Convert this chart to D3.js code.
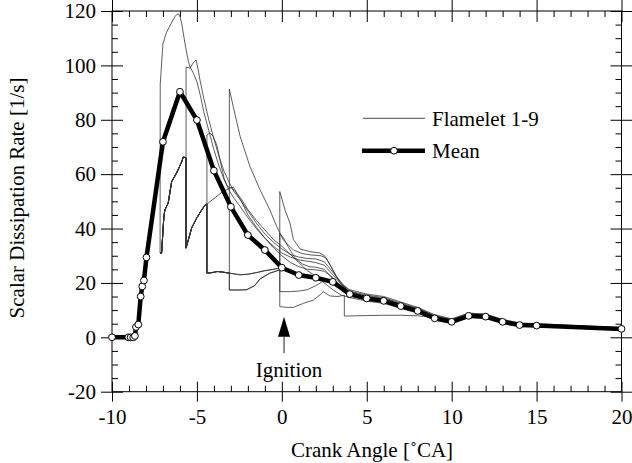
<!DOCTYPE html>
<html><head><meta charset="utf-8">
<script src="https://cdn.jsdelivr.net/npm/d3@7"></script>
<style>
body{margin:0;background:#fff}
svg{display:block}
text{font-family:"Liberation Serif","Times New Roman",Times,serif;fill:#000}
</style>
</head><body>
<svg id="chart" width="632" height="463"></svg>
<script>
// ---- data ----
const meanX = [-10,-9.04,-8.9,-8.75,-8.65,-8.59,-8.45,-8.31,-8.22,-8.12,-7.97,-7,-6,-5,-4,-3,-2,-1,0,1,2,3,4,5,6,7,8,9,10,11,12,13,14,15,20];
const meanY = [0,0,0,0,0.5,3.8,4.7,15.0,18.7,20.9,29.4,71.9,90.3,79.9,61.3,48.0,37.6,32.1,25.6,22.9,21.9,20.4,15.9,14.3,13.4,11.5,9.7,7.0,5.7,7.9,7.6,5.7,4.5,4.3,3.1];

const groupC = [[-7.17,31],[-7.08,31],[-6.95,44],[-6.89,46.8],[-6.69,49.4],[-6.49,57.2],[-6.2,60.4],[-5.9,64.5],[-5.8,66.3],[-5.64,66]];
const groupD = [[-5.64,32.8],[-5.31,40.2],[-5.01,43.9],[-4.72,46.8],[-4.52,48.7],[-4.41,49]];
const groupE = [[-4.41,23.6],[-4.1,23.8],[-3.8,24.2],[-3.5,24],[-3.09,23.6]];

const flamelet1 = [[-7.17,31],[-7.16,93],[-7.0,108],[-6.8,112],[-6.5,115.6],[-6.3,118],[-6.1,119],[-6.0,118],[-5.9,115.6],[-5.7,108],[-5.5,101.4],[-5.4,99.4],[-5.2,97],[-5.0,94],[-4.8,89],[-4.6,83],[-4.3,76],[-4.0,69],[-3.7,63],[-3.4,58],[-3.1,54],[-2.8,51],[-2.5,48.5],[-2.0,44],[-1.5,40],[-1.0,36.5],[-0.5,33.5],[0,31],[0.5,29.5],[1,28.5],[1.5,28],[2,27.5],[2.5,26.5],[3,23],[3.5,19.5],
  [4,17.5],[5,15.9],[6,15.0],[7,13.0],[8,11.0],[9,8.3],[10,6.8],[11,8.9],[12,8.6],[13,6.6],[14,5.3],[15,5.0],[17,4.4],[20,3.6]];
const flamelet2 = [...groupC,[-5.64,99.4],[-5.41,99],[-5.23,100.8],[-5.05,102],[-4.92,98.3],[-4.82,94.6],[-4.6,88],[-4.3,80],[-4.0,73],[-3.7,66.5],[-3.4,61],[-3.1,57],[-2.8,53.5],[-2.5,51],[-2.0,46.5],[-1.5,42],[-1.0,38],[-0.5,35],[0,32.5],[0.5,30.5],[1,29.5],[1.5,29],[2,28.8],[2.5,27.8],[3,24],[3.5,20],
  [4,17.0],[5,15.5],[6,14.6],[7,12.6],[8,10.7],[9,8.0],[10,6.5],[11,8.7],[12,8.4],[13,6.4],[14,5.1],[15,4.8],[17,4.2],[20,3.5]];
const flamelet3 = [...groupC,...groupD,[-4.41,74.4],[-4.23,75.2],[-4.05,74],[-3.82,70.5],[-3.6,64],[-3.4,58.5],[-3.2,55.5],[-3.0,55],[-2.85,55.2],[-2.6,52.5],[-2.3,49],[-2.0,45],[-1.5,40.5],[-1.0,36.5],[-0.5,33],[0,30],[0.5,27.5],[1,26],[1.5,25],[2,24.8],[2.5,24.3],[3,22],[3.5,18.5],
  [4,16.7],[5,15.2],[6,14.3],[7,12.3],[8,10.4],[9,7.7],[10,6.3],[11,8.5],[12,8.2],[13,6.2],[14,4.9],[15,4.7],[17,4.1],[20,3.4]];
const flamelet4 = [...groupC,...groupD,...groupE,[-3.09,91.3],[-2.86,84.8],[-2.46,74],[-1.87,62.7],[-1.28,54.2],[-0.7,46.8],[-0.3,40.7],[0.09,35.8],[0.68,32.1],[1.2,30.8],[1.7,30.3],[2.3,30],[2.6,29.2],[2.9,26],[3.2,22.3],[3.5,19.5],
  [4,16.4],[5,14.9],[6,14.0],[7,12.0],[8,10.1],[9,7.4],[10,6.0],[11,8.3],[12,8.0],[13,6.0],[14,4.8],[15,4.5],[17,4.0],[20,3.3]];
const flamelet5 = [...groupC,...groupD,...groupE,[-3.09,17.4],[-2.5,17.4],[-2.07,17.5],[-1.6,19],[-1.28,21.5],[-0.7,23.6],[-0.12,24.8],[-0.12,53.6],[0.19,46.8],[0.48,42],[0.68,36],[1.07,32.5],[1.66,31.5],[2.25,31],[2.54,29.8],[2.84,26.6],[3.23,22.3],[3.72,18.5],
  [4,16.1],[5,14.6],[6,13.6],[7,11.7],[8,9.9],[9,7.2],[10,5.9],[11,8.1],[12,7.8],[13,5.8],[14,4.6],[15,4.4],[17,3.9],[20,3.2]];
const flamelet6 = [...groupC,...groupD,...groupE,[-2.46,23],[-2.0,23.2],[-1.5,23.8],[-1.0,24.5],[-0.5,25],[-0.12,25.5],[-0.12,38.2],[0.1,36.5],[0.4,33],[0.8,29],[1.2,27],[1.6,26],[2.0,25.8],[2.5,25],[3.0,21.5],[3.5,18.5],
  [4,15.5],[5,14.0],[6,13.1],[7,11.2],[8,9.4],[9,6.8],[10,5.5],[11,7.7],[12,7.4],[13,5.5],[14,4.4],[15,4.2],[17,3.7],[20,3.0]];
const flamelet7 = [...groupC,...groupD,[-4.0,51],[-3.5,53.5],[-3.0,55],[-2.8,54],[-2.4,51],[-2.0,47],[-1.5,43],[-1.0,39.5],[-0.5,36],[0,33.5],[0.5,30.5],[1,27.5],[1.5,24.5],[2,22.5],[2.5,21],[3,19.5],[3.5,17.5],
  [4,15.2],[5,13.7],[6,12.8],[7,10.9],[8,9.2],[9,6.6],[10,5.3],[11,7.5],[12,7.2],[13,5.3],[14,4.2],[15,4.0],[17,3.6],[20,2.9]];
const flamelet8 = [...groupC,...groupD,...groupE,[-2.46,23],[-2.0,23.2],[-1.5,23.8],[-1.0,24.5],[-0.5,25],[-0.12,25.5],[-0.12,16.8],[0.5,16.8],[1.0,17],[1.5,17.5],[2.0,19],[2.4,20.5],[2.7,19],[3.0,17.5],[3.5,15.5],
  [4,14.6],[5,13.3],[6,12.5],[7,10.6],[8,8.9],[9,6.4],[10,5.1],[11,7.3],[12,7.0],[13,5.2],[14,4.1],[15,3.9],[17,3.5],[20,2.8]];
const flamelet9 = [...groupC,...groupD,...groupE,[-3.09,17.4],[-2.5,17.4],[-2.07,17.5],[-1.6,19],[-1.28,21.5],[-0.7,23.6],[-0.12,24.8],[-0.12,11.3],[0.3,11],[0.68,11],[1.27,12.5],[1.86,13.7],[2.25,15.6],[2.44,16.8],[2.84,15.2],[3.3,15.0],[3.68,15.5],[3.68,7.8],
  [5,8.0],[6,8.1],[7,8.1],[8,7.9],[8.6,7.5],[9,6.6],[10,5.4],[11,7.6],[12,7.3],[13,5.4],[14,4.3],[15,4.1],[17,3.7],[20,3.0]];
const flamelets = [flamelet1,flamelet2,flamelet3,flamelet4,flamelet5,flamelet6,flamelet7,flamelet8,flamelet9];

const xMajorTicks = [-10,-5,0,5,10,15,20];
const xMinorTicks = [-9,-8,-7,-6,-4,-3,-2,-1,1,2,3,4,6,7,8,9,11,12,13,14,16,17,18,19];
const yMajorTicks = [-20,0,20,40,60,80,100,120];
const yMinorTicks = [-15,-10,-5,5,10,15,25,30,35,45,50,55,65,70,75,85,90,95,105,110,115];

const ignition = {x:0.13, tip:7.6, base:0.2, tail:-5.9, label:"Ignition", labelY:-14.5};
const legendLabels = ["Flamelet 1-9","Mean"];
const xTitle = "Crank Angle [\u02DACA]";
const yTitle = "Scalar Dissipation Rate [1/s]";

// ---- chart ----
const svg = d3.select("#chart");
const x = d3.scaleLinear().domain([-10,20]).range([112,621.5]);
const y = d3.scaleLinear().domain([-20,120]).range([391.7,11]);
const FS = 21;

function styleAxis(g){
  g.select(".domain").remove();
  g.selectAll(".tick line").attr("stroke","#000").attr("stroke-width",1);
  g.selectAll("text").attr("font-size",FS).attr("font-family",'"Liberation Serif","Times New Roman",serif').attr("fill","#000");
}
const fmt = d => String(d);
// bottom
svg.append("g").attr("transform",`translate(0,${y(-20)})`).call(d3.axisBottom(x).tickValues(xMajorTicks).tickSize(10).tickPadding(7).tickFormat(fmt)).call(styleAxis);
svg.append("g").attr("transform",`translate(0,${y(-20)})`).call(d3.axisBottom(x).tickValues(xMajorTicks).tickSize(-10).tickFormat("")).call(styleAxis);
svg.append("g").attr("transform",`translate(0,${y(-20)})`).call(d3.axisBottom(x).tickValues(xMinorTicks).tickSize(-6).tickFormat("")).call(styleAxis);
// top
svg.append("g").attr("transform",`translate(0,${y(120)})`).call(d3.axisTop(x).tickValues(xMajorTicks).tickSize(11).tickFormat("")).call(styleAxis);
svg.append("g").attr("transform",`translate(0,${y(120)})`).call(d3.axisTop(x).tickValues(xMajorTicks).tickSize(-11).tickFormat("")).call(styleAxis);
svg.append("g").attr("transform",`translate(0,${y(120)})`).call(d3.axisTop(x).tickValues(xMinorTicks).tickSize(-6).tickFormat("")).call(styleAxis);
// left
svg.append("g").attr("transform",`translate(${x(-10)},0)`).call(d3.axisLeft(y).tickValues(yMajorTicks).tickSize(11).tickPadding(5).tickFormat(fmt)).call(styleAxis);
svg.append("g").attr("transform",`translate(${x(-10)},0)`).call(d3.axisLeft(y).tickValues(yMajorTicks).tickSize(-11).tickFormat("")).call(styleAxis);
svg.append("g").attr("transform",`translate(${x(-10)},0)`).call(d3.axisLeft(y).tickValues(yMinorTicks).tickSize(-6).tickFormat("")).call(styleAxis);
// right
svg.append("g").attr("transform",`translate(${x(20)},0)`).call(d3.axisRight(y).tickValues(yMajorTicks).tickSize(11).tickFormat("")).call(styleAxis);
svg.append("g").attr("transform",`translate(${x(20)},0)`).call(d3.axisRight(y).tickValues(yMajorTicks).tickSize(-11).tickFormat("")).call(styleAxis);
svg.append("g").attr("transform",`translate(${x(20)},0)`).call(d3.axisRight(y).tickValues(yMinorTicks).tickSize(-6).tickFormat("")).call(styleAxis);

// frame
svg.append("rect").attr("x",x(-10)).attr("y",y(120)).attr("width",x(20)-x(-10)).attr("height",y(-20)-y(120))
  .attr("fill","none").attr("stroke","#000").attr("stroke-width",1);

// titles
svg.append("text").attr("x",372).attr("y",457).attr("text-anchor","middle").attr("font-size",FS).text(xTitle);
svg.append("text").attr("transform","translate(24,198) rotate(-90)").attr("text-anchor","middle").attr("font-size",FS).text(yTitle);

// flamelets
const line = d3.line().x(d=>x(d[0])).y(d=>y(d[1]));
svg.append("g").selectAll("path").data(flamelets).join("path")
  .attr("d",line).attr("fill","none").attr("stroke","#333").attr("stroke-width",0.8).attr("stroke-linejoin","round");

// mean
const meanData = meanX.map((v,i)=>[v,meanY[i]]);
svg.append("path").datum(meanData).attr("d",line).attr("fill","none").attr("stroke","#000").attr("stroke-width",4.5).attr("stroke-linejoin","round");
svg.append("g").selectAll("circle").data(meanData).join("circle")
  .attr("cx",d=>x(d[0])).attr("cy",d=>y(d[1])).attr("r",3.4).attr("fill","#fff").attr("stroke","#000").attr("stroke-width",1);

// legend
const lg = svg.append("g");
lg.append("line").attr("x1",363).attr("x2",425).attr("y1",118.3).attr("y2",118.3).attr("stroke","#333").attr("stroke-width",0.9);
lg.append("text").attr("x",432).attr("y",125.5).attr("font-size",FS).text(legendLabels[0]);
lg.append("line").attr("x1",362).attr("x2",425).attr("y1",150.7).attr("y2",150.7).attr("stroke","#000").attr("stroke-width",4.5);
lg.append("circle").attr("cx",394).attr("cy",150.7).attr("r",3.4).attr("fill","#fff").attr("stroke","#000");
lg.append("text").attr("x",432).attr("y",157.5).attr("font-size",FS).text(legendLabels[1]);

// ignition arrow
const ax = x(ignition.x);
svg.append("line").attr("x1",ax).attr("x2",ax).attr("y1",y(ignition.base)).attr("y2",y(ignition.tail)).attr("stroke","#444").attr("stroke-width",1.2);
svg.append("path").attr("d",`M${ax},${y(ignition.tip)} L${ax-6},${y(ignition.base)} L${ax+6},${y(ignition.base)} Z`).attr("fill","#000");
svg.append("text").attr("x",ax+5).attr("y",y(ignition.labelY)).attr("text-anchor","middle").attr("font-size",FS).text(ignition.label);
</script>
</body></html>
